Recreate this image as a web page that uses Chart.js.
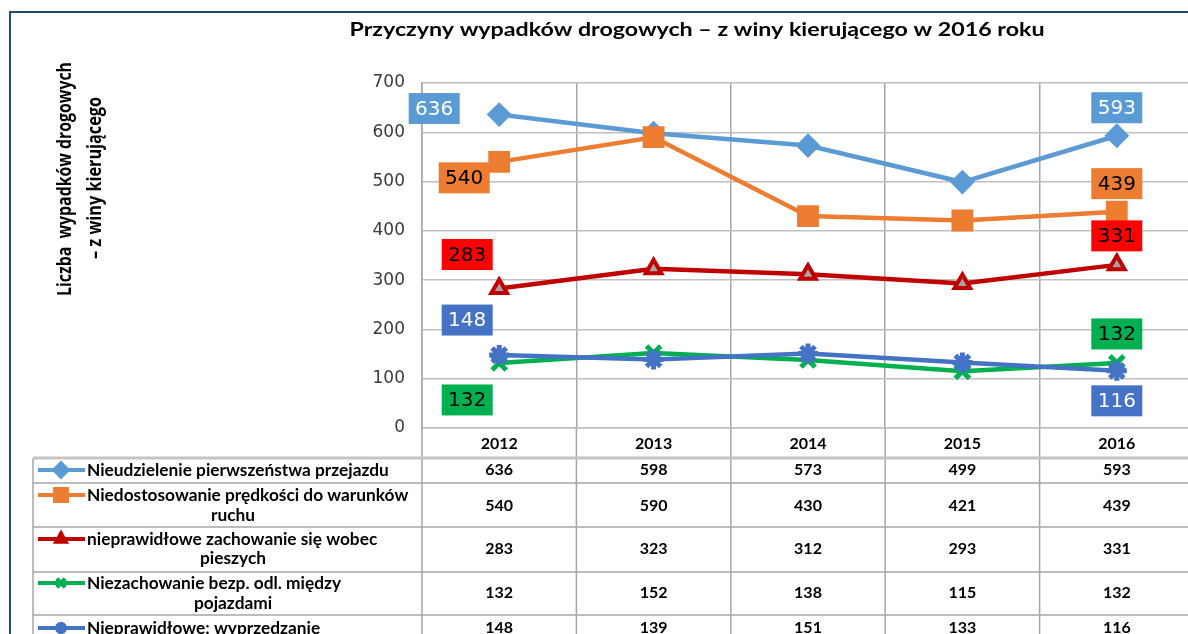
<!DOCTYPE html>
<html>
<head>
<meta charset="utf-8">
<script src="https://cdn.jsdelivr.net/npm/chart.js@4.4.1/dist/chart.umd.min.js"></script>
<style>
  html, body { margin: 0; padding: 0; background: #fff; overflow: hidden; }
  #wrap { position: relative; width: 1210px; height: 634px; }
</style>
</head>
<body>
<div id="wrap"><canvas id="chart" width="1210" height="634"></canvas></div>
<script>
// dane
const years = ['2012', '2013', '2014', '2015', '2016'];
const seriesNames = [
  ['Nieudzielenie pierwszeństwa przejazdu'],
  ['Niedostosowanie prędkości do warunków', 'ruchu'],
  ['nieprawidłowe zachowanie się wobec', 'pieszych'],
  ['Niezachowanie bezp. odl. między', 'pojazdami'],
  ['Nieprawidłowe: wyprzedzanie']
];
const nieudzielenie = [636, 598, 573, 499, 593];
const niedostosowanie = [540, 590, 430, 421, 439];
const pieszych = [283, 323, 312, 293, 331];
const odleglosc = [132, 152, 138, 115, 132];
const wyprzedzanie = [148, 139, 151, 133, 116];
const yTicks = [0, 100, 200, 300, 400, 500, 600, 700];

const chartTitle = 'Przyczyny wypadków drogowych – z winy kierującego w 2016 roku';
const yTitle = ['Liczba  wypadków drogowych', '– z winy kierującego'];

// wyglad serii
const styles = [
  { color: '#5B9BD5', fill: '#5B9BD5', point: 'rectRot', radius: 11, bw: 2, box: '#5B9BD5', txt: '#fff', first: [-65, -6], last: [0, -28] },
  { color: '#ED7D31', fill: '#ED7D31', point: 'rect', radius: 14, bw: 2, box: '#ED7D31', txt: '#000', first: [-35, 16], last: [0, -28] },
  { color: '#C00000', fill: '#A5A5A5', point: 'triangle', radius: 9, bw: 4, box: '#FF0000', txt: '#000', first: [-32, -34], last: [0, -29] },
  { color: '#00B050', fill: '#00B050', point: 'crossRot', radius: 10, bw: 5, box: '#00B050', txt: '#000', first: [-32, 37], last: [0, -29] },
  { color: '#4472C4', fill: '#4472C4', point: 'star', radius: 10, bw: 5, box: '#4472C4', txt: '#fff', first: [-32, -35], last: [0, 30] }
];
const allData = [nieudzielenie, niedostosowanie, pieszych, odleglosc, wyprzedzanie];

const datasets = allData.map((d, i) => ({
  label: seriesNames[i].join(' '),
  data: d,
  borderColor: styles[i].color,
  backgroundColor: styles[i].fill,
  borderWidth: 4.5,
  tension: 0,
  pointStyle: styles[i].point,
  pointRadius: styles[i].radius,
  pointHoverRadius: styles[i].radius,
  pointBorderWidth: styles[i].bw,
  pointBorderColor: styles[i].color,
  pointBackgroundColor: styles[i].fill,
  order: 5 - i
}));

function fitText(ctx, text, x, y, width, font, align) {
  ctx.save();
  ctx.font = font;
  const w = ctx.measureText(text).width;
  const k = width / w;
  ctx.translate(x, y);
  ctx.scale(k, 1);
  ctx.textAlign = align || 'center';
  ctx.textBaseline = 'middle';
  ctx.fillText(text, 0, 0);
  ctx.restore();
}

const decor = {
  id: 'decor',
  afterDraw(chart) {
    const ctx = chart.ctx;
    const xs = chart.scales.x;
    const area = chart.chartArea;
    ctx.save();

    // ramka
    ctx.strokeStyle = '#1F4E79';
    ctx.lineWidth = 2;
    ctx.beginPath();
    ctx.moveTo(10, 640);
    ctx.lineTo(10, 12);
    ctx.lineTo(1210, 12);
    ctx.stroke();

    // tytul
    ctx.fillStyle = '#000';
    fitText(ctx, chartTitle, 697, 30, 695, 'bold 19px Lato');

    // tytul osi y
    ctx.save();
    ctx.translate(65, 179);
    ctx.rotate(-Math.PI / 2);
    fitText(ctx, yTitle[0], 0, 0, 234, 'bold 20px "Open Sans"');
    ctx.restore();
    ctx.save();
    ctx.translate(95, 178);
    ctx.rotate(-Math.PI / 2);
    fitText(ctx, yTitle[1], 0, 0, 162, 'bold 20px "Open Sans"');
    ctx.restore();

    // tabela danych
    const rowLines = [458, 483, 527, 572, 615];
    const rowText = [[470], [495, 515], [539, 558], [583, 603], [628]];
    const valueY = [470, 506, 549, 593, 628];
    const colLines = [];
    for (let i = 0; i <= years.length; i++) {
      colLines.push(xs.getPixelForValue(i - 0.5));
    }
    ctx.strokeStyle = '#a6a6a6';
    ctx.lineWidth = 1.5;
    colLines.forEach(x => {
      ctx.beginPath();
      ctx.moveTo(x, area.bottom);
      ctx.lineTo(x, 640);
      ctx.stroke();
    });
    ctx.beginPath();
    ctx.moveTo(33, rowLines[0]);
    ctx.lineTo(33, 640);
    ctx.stroke();
    rowLines.forEach((y, i) => {
      ctx.strokeStyle = i === 0 ? '#c4c4c4' : '#a6a6a6';
      ctx.lineWidth = i === 0 ? 3 : 1.5;
      ctx.beginPath();
      ctx.moveTo(33, y);
      ctx.lineTo(1210, y);
      ctx.stroke();
    });

    ctx.font = 'bold 15px Lato';
    const legFs = 15 * 302 / ctx.measureText(seriesNames[0][0]).width;
    allData.forEach((d, i) => {
      const st = styles[i];
      const ky = rowText[i][0];
      ctx.strokeStyle = st.color;
      ctx.lineWidth = 4;
      ctx.beginPath();
      ctx.moveTo(38, ky);
      ctx.lineTo(85, ky);
      ctx.stroke();
      ctx.fillStyle = st.color;
      ctx.strokeStyle = st.color;
      Chart.helpers.drawPoint(ctx, { pointStyle: st.point, rotation: 0, radius: st.radius * 0.6, borderWidth: 2.5 }, 61, ky);

      ctx.fillStyle = '#000';
      ctx.font = 'bold ' + legFs.toFixed(2) + 'px Lato';
      ctx.textBaseline = 'middle';
      seriesNames[i].forEach((line, j) => {
        if (j === 0) {
          ctx.textAlign = 'left';
          ctx.fillText(line, 87, rowText[i][j]);
        } else {
          ctx.textAlign = 'center';
          ctx.fillText(line, 233, rowText[i][j]);
        }
      });

      ctx.font = 'bold 16px Lato';
      ctx.textAlign = 'center';
      d.forEach((v, k) => {
        ctx.fillText(String(v), xs.getPixelForValue(k), valueY[i]);
      });
    });

    // etykiety wartosci
    ctx.font = '20px "DejaVu Sans"';
    ctx.textAlign = 'center';
    ctx.textBaseline = 'middle';
    allData.forEach((d, i) => {
      const meta = chart.getDatasetMeta(i);
      const st = styles[i];
      [[0, st.first], [d.length - 1, st.last]].forEach(([idx, off]) => {
        const p = meta.data[idx];
        const cx = p.x + off[0];
        const cy = p.y + off[1];
        ctx.fillStyle = st.box;
        ctx.fillRect(cx - 25.5, cy - 15.5, 51, 31);
        ctx.fillStyle = st.txt;
        ctx.fillText(String(d[idx]), cx, cy + 1);
      });
    });
    ctx.restore();
  }
};

new Chart(document.getElementById('chart').getContext('2d'), {
  type: 'line',
  data: { labels: years, datasets: datasets },
  options: {
    responsive: false,
    animation: false,
    devicePixelRatio: 1,
    layout: { padding: { top: 83, right: 8, left: 0, bottom: 0 } },
    plugins: {
      legend: { display: false },
      title: { display: false },
      tooltip: { enabled: false }
    },
    scales: {
      x: {
        offset: true,
        grid: { offset: true, color: '#a6a6a6', lineWidth: 1.5, drawTicks: false },
        border: { color: '#bfbfbf', width: 1.5 },
        ticks: { color: '#000', font: { family: 'Lato', size: 16, weight: 'bold' }, padding: 6 },
        afterFit: s => { s.height = 206; }
      },
      y: {
        min: 0,
        max: 700,
        afterBuildTicks: s => { s.ticks = yTicks.map(v => ({ value: v })); },
        grid: { color: '#c0c0c0', lineWidth: 1.5, drawTicks: false },
        border: { color: '#a6a6a6', width: 1.5 },
        ticks: { color: '#3a3a3a', font: { family: 'DejaVu Sans', size: 17 }, padding: 17 },
        afterFit: s => { s.width = 422; }
      }
    }
  },
  plugins: [decor]
});
</script>
</body>
</html>
